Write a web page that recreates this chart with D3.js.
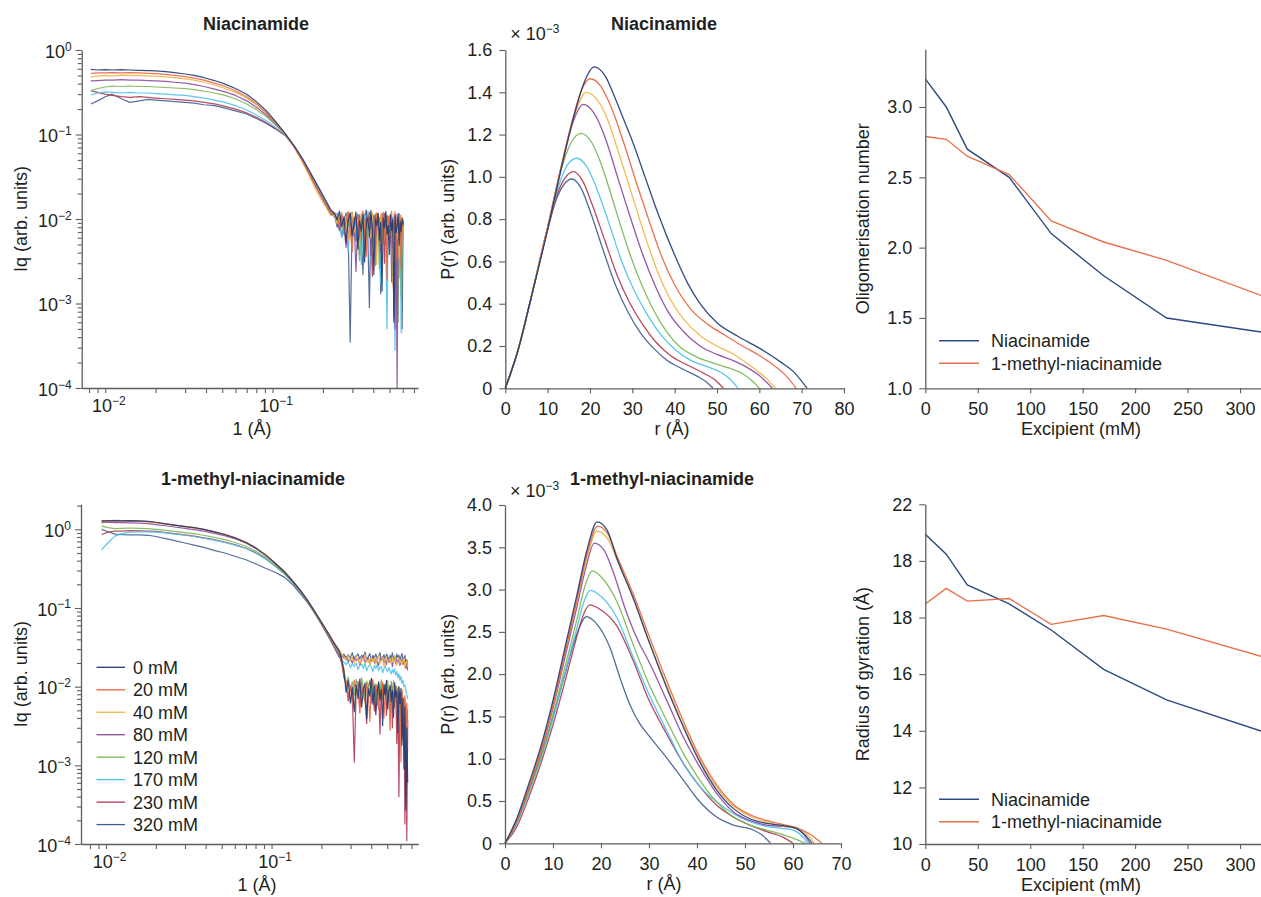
<!DOCTYPE html>
<html>
<head>
<meta charset="utf-8">
<script src="https://cdn.jsdelivr.net/npm/d3@7"></script>
<style>
  body { margin: 0; background: #fff; }
</style>
</head>
<body>
<script>
// ---------- data ----------
var concLabels = ["0 mM", "20 mM", "40 mM", "80 mM", "120 mM", "170 mM", "230 mM", "320 mM"];

// scattering vector q (1/Å), Niacinamide set
var qNia = [0.0082, 0.009, 0.010, 0.011, 0.0125, 0.014, 0.016, 0.018, 0.020, 0.023, 0.026, 0.030, 0.034, 0.039, 0.045,
  0.052, 0.060, 0.070, 0.080, 0.092, 0.105, 0.120, 0.135, 0.150, 0.165, 0.180, 0.195, 0.210, 0.222,
  0.235, 0.243, 0.251, 0.259, 0.267, 0.275, 0.283, 0.291, 0.299, 0.307, 0.315, 0.323, 0.331, 0.339, 0.347, 0.355,
  0.363, 0.371, 0.379, 0.387, 0.395, 0.403, 0.411, 0.419, 0.427, 0.435, 0.443, 0.451, 0.459, 0.467, 0.475, 0.483,
  0.491, 0.499, 0.507, 0.515, 0.523, 0.531, 0.539, 0.547, 0.555, 0.563, 0.571, 0.579, 0.587, 0.595, 0.603];

// Iq (x 10^-3 arb. units), Niacinamide
var iqNia0 = [590, 580, 585, 580, 585, 580, 575, 570, 565, 555, 540, 520, 500, 470, 435, 395, 350, 300, 245, 190, 140, 100, 73, 53, 38, 28, 21, 16, 13,
  11.5, 9.8, 12.4, 8.1, 10.6, 5.2, 9.4, 11.8, 6.3, 8.7, 12.1, 4.4, 9.6, 7.2, 11.3, 3.1, 8.8, 10.4, 6.1, 12.6, 7.7, 2.2, 9.9, 8.3,
  11.7, 5.6, 9.1, 1.4, 10.2, 7.9, 12.2, 6.6, 8.4, 3.8, 11.1, 7.3, 9.7, 0.6, 10.8, 6.9, 8.2, 11.6, 4.9, 9.3, 7.1, 10.1, 8.6];
var iqNia20 = [530, 535, 535, 540, 535, 540, 535, 530, 525, 515, 500, 485, 465, 440, 405, 370, 330, 280, 232, 180, 137, 100, 71, 50, 35, 25, 19, 14.5, 12,
  12.0, 10.2, 8.4, 11.9, 6.8, 9.7, 12.3, 7.5, 4.1, 10.6, 8.9, 11.4, 5.8, 9.2, 12.5, 7.0, 3.6, 10.9, 8.1, 11.2, 6.4, 9.5, 2.8, 11.8,
  7.7, 10.3, 5.1, 8.6, 12.0, 6.2, 9.9, 1.9, 10.7, 8.0, 11.5, 4.6, 9.0, 7.4, 12.2, 3.3, 10.0, 8.8, 6.7, 11.0, 2.5, 9.4, 8.2];
var iqNia40 = [480, 490, 500, 490, 505, 500, 500, 495, 490, 480, 470, 455, 440, 415, 385, 350, 315, 270, 225, 178, 136, 100, 70, 48, 33, 23, 17, 13.5, 11,
  11.0, 8.9, 11.6, 9.4, 7.1, 10.8, 5.5, 9.9, 12.0, 6.9, 8.3, 10.5, 4.8, 11.7, 7.9, 9.2, 3.9, 10.1, 8.5, 6.0, 11.9, 7.4, 9.8, 2.9,
  10.4, 8.0, 11.3, 5.3, 9.0, 7.6, 12.1, 4.3, 9.6, 10.9, 6.5, 8.7, 1.6, 11.4, 7.8, 9.3, 5.9, 10.6, 3.4, 8.9, 11.2, 7.0, 9.1];
var iqNia80 = [430, 435, 440, 440, 445, 440, 440, 435, 430, 425, 415, 405, 390, 370, 345, 320, 290, 250, 210, 170, 132, 100, 71, 50, 35, 25, 18.5, 14, 11.5,
  10.8, 9.1, 7.3, 10.9, 8.2, 4.6, 11.5, 9.3, 6.7, 10.1, 2.4, 8.8, 11.2, 7.5, 9.7, 5.4, 10.6, 8.0, 12.0, 3.7, 9.4, 7.1, 11.0, 6.3,
  8.6, 10.3, 4.0, 9.9, 7.8, 11.6, 5.0, 8.4, 10.7, 6.9, 9.2, 1.8, 10.4, 7.6, 0.5, 11.3, 0.09, 8.1, 9.8, 5.7, 10.0, 7.3, 8.9];
var iqNia120 = [330, 350, 365, 375, 370, 375, 370, 370, 365, 360, 355, 350, 340, 325, 310, 290, 265, 230, 197, 162, 128, 99, 71, 50, 35, 25, 19, 14.5, 12,
  10.9, 8.7, 11.3, 9.6, 6.5, 10.4, 8.1, 11.8, 5.3, 9.0, 10.7, 7.2, 3.2, 11.1, 8.6, 9.8, 6.0, 12.3, 7.7, 10.0, 4.5, 9.3, 11.4, 7.0,
  8.5, 2.6, 10.8, 9.1, 6.4, 11.7, 8.2, 5.6, 10.2, 7.4, 9.5, 12.4, 3.5, 8.9, 10.5, 6.8, 9.7, 0.6, 11.0, 8.3, 1.2, 9.9, 10.6];
var iqNia170 = [295, 310, 320, 315, 310, 315, 310, 310, 305, 300, 295, 290, 280, 270, 255, 240, 220, 195, 170, 145, 120, 98, 72, 51, 36, 26, 19.5, 15, 12,
  10.5, 11.8, 8.3, 6.2, 10.0, 9.1, 4.0, 11.0, 7.4, 9.8, 5.9, 10.9, 8.0, 2.9, 9.5, 11.3, 6.8, 8.7, 10.6, 3.3, 9.2, 7.6, 11.5, 5.0,
  8.9, 10.2, 1.7, 9.6, 7.1, 10.8, 6.0, 0.5, 9.4, 11.1, 7.8, 4.2, 10.3, 8.4, 0.28, 9.7, 6.6, 10.9, 2.0, 8.1, 0.45, 9.0, 7.5];
var iqNia230 = [330, 315, 300, 290, 280, 275, 280, 275, 270, 265, 260, 255, 250, 240, 230, 215, 200, 180, 160, 138, 116, 97, 71, 51, 36, 26, 19.5, 15, 12.2,
  11.2, 9.5, 7.8, 11.0, 8.4, 10.3, 5.0, 9.1, 12.0, 6.6, 8.9, 10.8, 3.8, 9.9, 7.3, 11.4, 5.7, 8.2, 10.1, 6.9, 2.1, 10.7, 8.7, 7.0,
  11.6, 4.7, 9.4, 8.0, 10.5, 3.0, 9.0, 11.1, 6.4, 8.3, 10.0, 5.3, 9.6, 7.2, 11.3, 1.5, 8.6, 10.4, 6.1, 9.2, 3.9, 10.2, 8.8];
var iqNia320 = [230, 250, 280, 300, 265, 240, 250, 260, 255, 250, 245, 240, 235, 225, 220, 205, 190, 175, 155, 135, 115, 96, 72, 52, 37, 27, 20, 15.5, 12.5,
  11.0, 8.0, 10.7, 6.1, 9.4, 11.8, 7.2, 0.35, 10.0, 8.6, 5.5, 11.4, 9.0, 7.0, 2.2, 10.5, 12.8, 6.3, 0.9, 9.7, 8.1, 11.1, 4.4, 10.3,
  7.6, 9.2, 1.3, 11.7, 6.7, 8.8, 10.6, 3.5, 9.5, 7.3, 11.2, 5.2, 8.4, 0.7, 10.1, 6.8, 9.6, 2.7, 11.5, 7.9, 8.9, 0.5, 9.8];

// scattering vector q (1/Å), 1-methyl-niacinamide set
var qMet = [0.0094, 0.0103, 0.0113, 0.0125, 0.014, 0.016, 0.018, 0.020, 0.023, 0.026, 0.030, 0.034, 0.039, 0.045, 0.052,
  0.060, 0.070, 0.080, 0.092, 0.105, 0.120, 0.135, 0.150, 0.165, 0.180, 0.195, 0.210, 0.225, 0.240, 0.255,
  0.265, 0.2735, 0.282, 0.2905, 0.299, 0.3075, 0.316, 0.3245, 0.333, 0.3415, 0.35, 0.3585, 0.367, 0.3755, 0.384, 0.3925,
  0.401, 0.4095, 0.418, 0.4265, 0.435, 0.4435, 0.452, 0.4605, 0.469, 0.4775, 0.486, 0.4945, 0.503, 0.5115, 0.52, 0.5285,
  0.537, 0.5455, 0.554, 0.5625, 0.571, 0.5795, 0.588, 0.5965, 0.605, 0.6135, 0.622, 0.6305, 0.639, 0.6475, 0.656, 0.6645];

// Iq (x 10^-3 arb. units), 1-methyl-niacinamide
var iqMet0 = [1270, 1280, 1290, 1280, 1290, 1280, 1260, 1230, 1170, 1130, 1080, 1050, 1000, 930, 860, 780, 680, 580, 470, 370, 285, 215, 165, 125, 94, 72, 56, 44, 35, 29,
  22, 16, 8.5, 12, 6.2, 9.8, 4.8, 10.5, 7.1, 12.5, 5.5, 8.9, 11.2, 3.9, 9.4, 7.6, 12.8, 6.0, 10.1, 4.4, 8.3, 11.5, 6.8, 9.2,
  3.2, 10.7, 7.9, 12.0, 5.2, 8.6, 10.4, 6.5, 9.0, 4.1, 11.3, 7.3, 8.8, 2.6, 10.0, 6.1, 9.5, 1.8, 7.0, 0.9, 5.5, 0.27, 3.0, 0.6];
var iqMet20 = [1290, 1290, 1300, 1290, 1280, 1270, 1250, 1220, 1170, 1130, 1090, 1050, 1000, 935, 865, 785, 685, 585, 475, 375, 290, 218, 165, 124, 93, 71, 55, 43, 34, 28,
  21, 14, 11.8, 7.4, 10.2, 5.9, 12.1, 8.0, 9.7, 4.6, 11.0, 7.8, 6.3, 10.8, 8.9, 3.6, 9.9, 12.3, 6.9, 8.4, 10.6, 5.1, 9.3, 7.2,
  11.4, 4.0, 8.7, 10.1, 6.6, 9.0, 2.8, 11.7, 7.5, 8.2, 5.4, 10.3, 6.0, 9.6, 3.3, 8.1, 1.1, 9.2, 5.8, 2.0, 7.7, 0.8, 6.2, 3.5];
var iqMet40 = [1250, 1260, 1270, 1270, 1260, 1260, 1240, 1210, 1160, 1120, 1080, 1040, 990, 930, 860, 780, 685, 585, 475, 375, 290, 218, 166, 125, 95, 73, 57, 45, 36, 30,
  26, 24, 22.5, 25, 21, 23.5, 20, 24.5, 22, 19.5, 23, 21.5, 25.5, 20.5, 22, 18.5, 24, 21, 23, 19, 22.5, 25, 20, 21.5,
  23.5, 18, 22, 24, 20.5, 21, 23, 19.5, 22.5, 20, 24.5, 21, 18.5, 22, 23.5, 20, 21.5, 19, 22, 23, 17.5, 20.5, 21, 18];
var iqMet80 = [1220, 1230, 1220, 1220, 1210, 1200, 1180, 1150, 1110, 1070, 1030, 990, 950, 890, 830, 760, 670, 575, 470, 370, 287, 217, 165, 124, 94, 72, 56, 44, 35, 29,
  25, 23, 24.5, 21, 22.5, 20, 24, 21.5, 23, 19, 22, 25, 20.5, 21.5, 23.5, 19.5, 22, 24.5, 20, 22.5, 21, 18.5, 23, 21.5,
  24, 20, 22, 19, 23.5, 21, 20.5, 22.5, 18, 21.5, 23, 19.5, 22, 20, 24, 18.5, 21, 22.5, 19, 20.5, 21.5, 17, 19.5, 16];
var iqMet120 = [1100, 1050, 1020, 1030, 1040, 1030, 1020, 1000, 970, 940, 910, 880, 840, 790, 740, 680, 610, 530, 440, 350, 275, 210, 160, 121, 92, 71, 55, 43, 34, 28,
  23, 17, 10.5, 13.2, 9, 11.6, 7.8, 12.4, 10, 8.4, 13, 9.5, 6.6, 11.8, 10.2, 8.1, 12.6, 7.2, 10.9, 9.1, 5.7, 11.3, 8.7, 12.2,
  6.9, 9.8, 10.7, 7.5, 11.9, 8.3, 4.9, 10.4, 9.2, 12.0, 6.4, 8.8, 10.1, 5.2, 9.7, 7.0, 3.8, 8.5, 6.3, 2.4, 7.1, 4.5, 1.6, 5.0];
var iqMet170 = [550, 680, 820, 880, 920, 930, 930, 920, 900, 870, 840, 810, 770, 730, 680, 630, 570, 500, 420, 340, 270, 205, 157, 120, 91, 70, 54, 42, 33, 27,
  22, 20.5, 19, 21, 17.5, 19.5, 18, 20, 16.5, 18.5, 19.5, 17, 20, 16, 18, 19, 17.5, 15.5, 18.5, 17, 19, 16, 17.5, 18,
  15, 17, 18.5, 16.5, 15.5, 17.5, 16, 14.5, 16.5, 15, 17, 14, 15.5, 13, 14.5, 12, 13.5, 11, 12, 10, 10.5, 9, 8, 7];
var iqMet230 = [860, 920, 950, 950, 960, 955, 950, 940, 910, 880, 850, 820, 780, 740, 690, 640, 575, 505, 425, 345, 272, 207, 158, 120, 90, 69, 53, 41, 32, 26,
  20, 13, 11.1, 6.6, 10.3, 8.0, 1.1, 9.4, 11.6, 5.7, 8.5, 10.0, 7.1, 3.4, 9.8, 11.9, 6.2, 8.9, 4.9, 10.6, 7.4, 9.1, 2.5, 11.2,
  6.8, 8.0, 10.5, 4.3, 9.0, 7.7, 5.6, 10.2, 3.0, 8.4, 6.5, 9.6, 1.9, 7.9, 0.4, 8.6, 5.0, 6.9, 2.2, 7.3, 0.18, 5.9, 0.11, 3.6];
var iqMet320 = [1000, 930, 870, 855, 850, 850, 840, 810, 760, 720, 670, 630, 590, 540, 500, 455, 410, 365, 320, 285, 245, 195, 150, 117, 90, 68, 52, 40, 31, 24,
  24, 26, 22, 25.5, 23, 27, 21.5, 24.5, 26, 22.5, 25, 23.5, 27.5, 22, 24, 26.5, 21, 25, 23, 26, 22.5, 24.5, 27, 21.5,
  23.5, 25.5, 22, 26, 24, 20.5, 25, 23, 27, 22, 24.5, 21, 26, 23.5, 25, 22, 24, 26.5, 21.5, 23, 25, 20, 22, 19];

// P(r) as [r (Å), P (x 10^-3)], Niacinamide
var prNia0 = [[0,0],[3,0.18],[6,0.42],[10,0.75],[13,1.02],[16,1.27],[18.5,1.44],[21,1.52],[23.5,1.48],[26,1.37],[28,1.27],[30,1.17],[33,1.0],[36,0.83],[40,0.63],[43,0.5],[46,0.4],[50,0.31],[55,0.245],[60,0.19],[65,0.125],[68,0.08],[71.3,0]];
var prNia20 = [[0,0],[3,0.18],[6,0.42],[10,0.76],[13,1.03],[16,1.28],[18,1.41],[20,1.464],[22.5,1.43],[25,1.33],[28,1.16],[31,0.97],[34,0.79],[37,0.62],[40,0.49],[44,0.37],[48,0.3],[52,0.25],[56,0.2],[60,0.155],[64,0.1],[66.5,0.055],[68.7,0]];
var prNia40 = [[0,0],[3,0.18],[6,0.42],[10,0.76],[13,1.03],[16,1.27],[19.1,1.40],[21.5,1.37],[24,1.28],[27,1.1],[30,0.91],[33,0.72],[36,0.55],[39,0.42],[42,0.33],[46,0.25],[50,0.2],[54,0.16],[57,0.12],[60,0.075],[62,0.04],[63.9,0]];
var prNia80 = [[0,0],[3,0.18],[6,0.42],[10,0.76],[13,1.03],[16,1.26],[18.4,1.343],[21,1.3],[23.5,1.19],[26.5,1.0],[29.5,0.81],[32.5,0.63],[35.5,0.48],[38.5,0.36],[42,0.27],[46,0.2],[50,0.16],[54,0.13],[57,0.1],[60,0.06],[63.1,0]];
var prNia120 = [[0,0],[3,0.18],[6,0.42],[10,0.76],[13,1.02],[15.5,1.16],[17.9,1.206],[20.5,1.16],[23,1.04],[26,0.85],[29,0.66],[32,0.5],[35,0.37],[38,0.27],[41,0.2],[45,0.15],[49,0.12],[53,0.095],[56,0.07],[58,0.04],[60,0]];
var prNia170 = [[0,0],[3,0.18],[6,0.42],[10,0.76],[12.5,0.95],[14.8,1.06],[16.9,1.088],[19.2,1.05],[21.5,0.95],[24.5,0.78],[27.5,0.6],[30.5,0.46],[33.5,0.35],[36.5,0.26],[40,0.185],[44,0.13],[48,0.1],[51,0.075],[53,0.045],[55,0]];
var prNia230 = [[0,0],[3,0.18],[6,0.42],[10,0.76],[12.3,0.92],[14.3,1.0],[16.1,1.025],[18.3,0.98],[20.5,0.87],[23.5,0.7],[26.5,0.53],[29.5,0.4],[32.5,0.3],[35.5,0.22],[39,0.155],[43,0.11],[47,0.07],[49.5,0.04],[51.5,0]];
var prNia320 = [[0,0],[3,0.18],[6,0.42],[10,0.75],[12,0.89],[13.9,0.965],[15.7,0.99],[17.8,0.95],[20,0.84],[23,0.66],[26,0.49],[29,0.36],[32,0.26],[35,0.19],[38,0.135],[42,0.09],[45.5,0.055],[47.5,0.03],[49.1,0]];

// P(r) as [r (Å), P (x 10^-3)], 1-methyl-niacinamide
var prMet0 = [[0,0],[2.5,0.3],[5,0.71],[7.5,1.15],[10,1.69],[12.8,2.39],[15,2.94],[17,3.45],[19.2,3.80],[21.3,3.7],[23.3,3.37],[26.7,2.9],[29.7,2.43],[33.7,1.84],[37.2,1.37],[40.6,0.96],[44.1,0.63],[47.6,0.41],[51,0.29],[54.5,0.235],[58,0.21],[60.5,0.18],[62.5,0.1],[64,0]];
var prMet20 = [[0,0],[2.5,0.27],[5,0.66],[7.5,1.1],[10,1.63],[12.8,2.33],[15,2.88],[17,3.4],[19.3,3.75],[21.3,3.67],[23.3,3.4],[26.7,2.95],[29.7,2.5],[33.7,1.92],[37.2,1.44],[40.6,1.02],[44.1,0.69],[47.6,0.46],[51,0.34],[54.5,0.27],[58,0.22],[61,0.18],[63.5,0.11],[66,0]];
var prMet40 = [[0,0],[2.5,0.28],[5,0.67],[7.5,1.1],[10,1.64],[12.8,2.33],[15,2.87],[17,3.35],[19.1,3.69],[21.3,3.61],[23.3,3.36],[26.7,2.9],[29.7,2.44],[33.7,1.86],[37.2,1.39],[40.6,0.99],[44.1,0.66],[47.6,0.44],[51,0.32],[54.5,0.25],[58,0.2],[61,0.17],[63,0.1],[64.5,0]];
var prMet80 = [[0,0],[2.5,0.27],[5,0.65],[7.5,1.08],[10,1.6],[12.8,2.27],[15,2.8],[16.8,3.25],[18.6,3.55],[20.6,3.47],[22.6,3.2],[25,2.78],[28.1,2.35],[29.7,2.18],[33.7,1.69],[37.2,1.25],[40.6,0.9],[44.1,0.59],[47.6,0.37],[51,0.27],[54.5,0.215],[58,0.2],[60,0.19],[62,0.12],[63.5,0]];
var prMet120 = [[0,0],[2.5,0.25],[5,0.62],[7.5,1.02],[10,1.52],[12.8,2.15],[15,2.65],[16.6,3.03],[18.2,3.22],[20.2,3.14],[23.3,2.86],[26.7,2.35],[29.7,1.92],[33.7,1.45],[37.2,1.06],[40.6,0.745],[44.1,0.49],[47.6,0.31],[51,0.215],[54.5,0.157],[58,0.1],[60,0.06],[62.5,0]];
var prMet170 = [[0,0],[2.5,0.24],[5,0.6],[7.5,1.0],[10,1.47],[12.8,2.08],[15,2.55],[16.4,2.85],[17.8,2.99],[19.8,2.93],[23.3,2.67],[26.7,2.2],[29.7,1.8],[33.7,1.33],[37.2,0.94],[40.6,0.67],[44.1,0.49],[47.6,0.35],[51,0.255],[54.5,0.2],[58,0.175],[60,0.157],[62,0.08],[63,0]];
var prMet230 = [[0,0],[2.5,0.2],[5,0.55],[7.5,0.95],[10,1.4],[12.8,1.98],[15,2.45],[16.3,2.7],[17.7,2.82],[19.7,2.77],[23.3,2.57],[26.7,2.16],[29.7,1.73],[33.7,1.29],[37.2,0.94],[40.6,0.67],[44.1,0.45],[47.6,0.31],[51,0.215],[54.5,0.137],[58,0.07],[60,0]];
var prMet320 = [[0,0],[2.5,0.26],[5,0.63],[7.5,1.03],[10,1.5],[12.5,2.0],[14.8,2.45],[17,2.68],[19,2.6],[21.9,2.31],[24,1.95],[26,1.64],[28,1.42],[30,1.27],[33,1.06],[37.2,0.745],[40,0.53],[44.1,0.31],[47.6,0.215],[51.7,0.157],[53.5,0.1],[55.3,0]];

// summary vs excipient concentration
var excipient = [0, 20, 40, 80, 120, 170, 230, 320];
var oligoNia = [3.20, 3.00, 2.70, 2.50, 2.10, 1.80, 1.50, 1.40];
var oligoMet = [2.79, 2.77, 2.65, 2.52, 2.19, 2.04, 1.91, 1.66];
var rgNia = [20.94, 20.24, 19.15, 18.48, 17.56, 16.17, 15.09, 13.99];
var rgMet = [18.48, 19.03, 18.58, 18.67, 17.76, 18.07, 17.59, 16.63];
var rgTickLabels = ["10", "12", "14", "16", "18", "18", "22"];   // as printed in the figure
var seriesNames = ["Niacinamide", "1-methyl-niacinamide"];

// ---------- styles ----------
var concColors = ["#1f3c76", "#e8663f", "#f2b343", "#8a4c9f", "#7bb653", "#4cc1ee", "#b03a52", "#42608f"];
var pairColors = ["#2d4a80", "#e8714c"];
var axisColor = "#5e5e5e";
var textColor = "#231f20";
var fontSize = 18;

var svg = d3.select("body").append("svg")
  .attr("width", 1261).attr("height", 897)
  .style("font-family", '"Liberation Sans", Arial, Helvetica, sans-serif');

function styleAxis(g) {
  g.attr("font-family", null).attr("font-size", fontSize);
  g.select(".domain").attr("stroke", axisColor).attr("stroke-width", 1.3);
  g.selectAll(".tick line").attr("stroke", axisColor).attr("stroke-width", 1.1);
  g.selectAll(".tick text").attr("fill", textColor);
}

function label(x, y, txt, opts) {
  opts = opts || {};
  var t = svg.append("text")
    .attr("x", x).attr("y", y)
    .attr("text-anchor", opts.anchor || "middle")
    .attr("font-size", opts.size || fontSize)
    .attr("font-weight", opts.bold ? "bold" : null)
    .attr("fill", textColor)
    .text(txt);
  if (opts.rotate) {
    t.attr("x", 0).attr("y", 0).attr("transform", "translate(" + x + "," + y + ") rotate(-90)");
  }
  return t;
}

function powText(t, d) {
  var e = Math.round(Math.log10(d));
  t.text("10");
  t.append("tspan").attr("font-size", 12).attr("dy", "-0.6em").text(e < 0 ? "\u2212" + (-e) : String(e));
}

function isPow(d) {
  var l = Math.log10(d);
  return Math.abs(l - Math.round(l)) < 1e-9;
}

// ---------- log-log Iq panels ----------
function logPanel(p) {
  var x = d3.scaleLog().domain(p.xDomain).range([p.left, p.right]);
  var y = d3.scaleLog().domain(p.yDomain).range([p.bottom, p.top]).clamp(true);

  var line = d3.line()
    .x(function(d) { return x(d[0]); })
    .y(function(d) { return y(d[1] / 1000); });

  // draw 320 mM first so 0 mM ends on top
  for (var i = p.series.length - 1; i >= 0; i--) {
    svg.append("path")
      .datum(d3.zip(p.q, p.series[i]))
      .attr("d", line)
      .attr("fill", "none")
      .attr("stroke", concColors[i])
      .attr("stroke-width", 1.2)
      .attr("stroke-opacity", 0.9)
      .attr("stroke-linejoin", "round");
  }

  var gx = svg.append("g")
    .attr("transform", "translate(0," + p.bottom + ")")
    .call(d3.axisBottom(x).tickValues(x.ticks()).tickSize(5).tickSizeOuter(0).tickFormat(""));
  styleAxis(gx);
  gx.selectAll(".tick text").each(function(d) {
    var t = d3.select(this);
    if (isPow(d)) { t.attr("y", 24).attr("dy", null).attr("x", 3); powText(t, d); }
    else t.remove();
  });

  var gy = svg.append("g")
    .attr("transform", "translate(" + p.left + ",0)")
    .call(d3.axisLeft(y).tickValues(y.ticks()).tickSize(4).tickSizeOuter(0).tickFormat(""));
  styleAxis(gy);
  gy.selectAll(".tick line").filter(isPow).attr("x2", -6);
  gy.selectAll(".tick text").each(function(d) {
    var t = d3.select(this);
    if (isPow(d)) { t.attr("x", -10).attr("dy", "0.4em"); powText(t, d); }
    else t.remove();
  });

  label(p.titleX, p.titleY, p.title, { bold: true });
  label(p.xLabelX, p.bottom + 47, "1 (\u00c5)");
  label(p.yLabelX, (p.top + p.bottom) / 2, "Iq (arb. units)", { rotate: true });
}

// ---------- P(r) panels ----------
function prPanel(p) {
  var x = d3.scaleLinear().domain([0, p.rMax]).range([p.left, p.right]);
  var y = d3.scaleLinear().domain([0, p.pMax]).range([p.bottom, p.top]);

  var line = d3.line()
    .curve(d3.curveMonotoneX)
    .x(function(d) { return x(d[0]); })
    .y(function(d) { return y(d[1]); });

  for (var i = p.series.length - 1; i >= 0; i--) {
    svg.append("path")
      .datum(p.series[i])
      .attr("d", line)
      .attr("fill", "none")
      .attr("stroke", concColors[i])
      .attr("stroke-width", 1.3)
      .attr("stroke-opacity", 0.92);
  }

  var gx = svg.append("g")
    .attr("transform", "translate(0," + p.bottom + ")")
    .call(d3.axisBottom(x).tickValues(d3.range(0, p.rMax + 1, 10)).tickSize(5).tickPadding(9)
      .tickSizeOuter(0).tickFormat(d3.format("d")));
  styleAxis(gx);

  var gy = svg.append("g")
    .attr("transform", "translate(" + p.left + ",0)")
    .call(d3.axisLeft(y).tickValues(p.yTicks).tickSize(6).tickPadding(7).tickSizeOuter(0)
      .tickFormat(function(d) { return d === 0 ? "0" : d.toFixed(1); }));
  styleAxis(gy);

  label(p.titleX, p.titleY, p.title, { bold: true });
  var mult = label(p.left + 5, p.multY, "\u00d7 10", { anchor: "start" });
  mult.append("tspan").attr("font-size", 12).attr("dy", "-0.6em").text("\u22123");
  label(p.xLabelX, p.bottom + 47, "r (\u00c5)");
  label(p.yLabelX, (p.top + p.bottom) / 2, "P(r) (arb. units)", { rotate: true });
}

// ---------- summary line panels ----------
function linePanel(p) {
  var x = d3.scaleLinear().domain([0, 320]).range([p.left, p.right]);
  var y = d3.scaleLinear().domain(p.yDomain).range([p.bottom, p.top]);

  var line = d3.line()
    .x(function(d) { return x(d[0]); })
    .y(function(d) { return y(d[1]); });

  [p.nia, p.met].forEach(function(vals, i) {
    svg.append("path")
      .datum(d3.zip(excipient, vals))
      .attr("d", line)
      .attr("fill", "none")
      .attr("stroke", pairColors[i])
      .attr("stroke-width", 1.4);
  });

  var gx = svg.append("g")
    .attr("transform", "translate(0," + p.bottom + ")")
    .call(d3.axisBottom(x).tickValues(d3.range(0, 301, 50)).tickSize(5).tickPadding(9).tickSizeOuter(0));
  styleAxis(gx);

  var gy = svg.append("g")
    .attr("transform", "translate(" + p.left + ",0)")
    .call(d3.axisLeft(y).tickValues(p.yTicks).tickSize(6).tickPadding(7).tickSizeOuter(0)
      .tickFormat(p.yFormat));
  styleAxis(gy);

  seriesNames.forEach(function(name, i) {
    var ly = p.legendY + i * 22.5;
    svg.append("line")
      .attr("x1", 939).attr("x2", 979).attr("y1", ly).attr("y2", ly)
      .attr("stroke", pairColors[i]).attr("stroke-width", 1.4);
    label(991, ly + 6.5, name, { anchor: "start" });
  });

  label(1081, p.bottom + 47, "Excipient (mM)");
  label(p.yLabelX, (p.top + p.bottom) / 2, p.yLabel, { rotate: true });
}

// ---------- build ----------
logPanel({
  left: 81.7, right: 418, top: 50, bottom: 388,
  xDomain: [0.00723, 0.74], yDomain: [1e-4, 1],
  q: qNia, series: [iqNia0, iqNia20, iqNia40, iqNia80, iqNia120, iqNia170, iqNia230, iqNia320],
  title: "Niacinamide", titleX: 256, titleY: 30, xLabelX: 252, yLabelX: 27
});

logPanel({
  left: 81, right: 418.3, top: 504.3, bottom: 844,
  xDomain: [0.00706, 0.77], yDomain: [1e-4, 2.08],
  q: qMet, series: [iqMet0, iqMet20, iqMet40, iqMet80, iqMet120, iqMet170, iqMet230, iqMet320],
  title: "1-methyl-niacinamide", titleX: 253, titleY: 485, xLabelX: 257, yLabelX: 27
});

// concentration legend (bottom-left panel)
concLabels.forEach(function(name, i) {
  var ly = 667.3 + i * 22.47;
  svg.append("line")
    .attr("x1", 96.5).attr("x2", 125).attr("y1", ly).attr("y2", ly)
    .attr("stroke", concColors[i]).attr("stroke-width", 1.3);
  label(133, ly + 6.5, name, { anchor: "start" });
});

prPanel({
  left: 505.3, right: 844, top: 50, bottom: 388.3, rMax: 80, pMax: 1.6,
  yTicks: [0, 0.2, 0.4, 0.6, 0.8, 1.0, 1.2, 1.4, 1.6],
  series: [prNia0, prNia20, prNia40, prNia80, prNia120, prNia170, prNia230, prNia320],
  title: "Niacinamide", titleX: 664, titleY: 30, multY: 40, xLabelX: 672, yLabelX: 454
});

prPanel({
  left: 505, right: 841, top: 505, bottom: 843.3, rMax: 70, pMax: 4.0,
  yTicks: [0, 0.5, 1.0, 1.5, 2.0, 2.5, 3.0, 3.5, 4.0],
  series: [prMet0, prMet20, prMet40, prMet80, prMet120, prMet170, prMet230, prMet320],
  title: "1-methyl-niacinamide", titleX: 662, titleY: 485, multY: 497, xLabelX: 664, yLabelX: 454
});

linePanel({
  left: 925.3, right: 1261, top: 49.3, bottom: 388.3, yDomain: [1, 3.41],
  yTicks: [1.0, 1.5, 2.0, 2.5, 3.0], yFormat: d3.format(".1f"),
  nia: oligoNia, met: oligoMet, legendY: 340.7,
  yLabel: "Oligomerisation number", yLabelX: 869
});

linePanel({
  left: 925.3, right: 1261, top: 504.3, bottom: 844, yDomain: [10, 22],
  yTicks: [10, 12, 14, 16, 18, 20, 22], yFormat: function(d, i) { return rgTickLabels[i]; },
  nia: rgNia, met: rgMet, legendY: 799.3,
  yLabel: "Radius of gyration (\u00c5)", yLabelX: 869
});
</script>
</body>
</html>
